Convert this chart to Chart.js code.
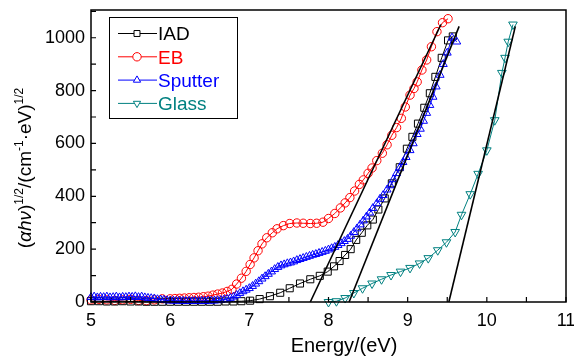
<!doctype html>
<html lang="en">
<head>
<meta charset="UTF-8">
<title>Tauc plot</title>
<style>body{margin:0;background:#fff}</style>
</head>
<body>
<canvas id="chart" width="574" height="356"></canvas>
<script src="https://cdn.jsdelivr.net/npm/chart.js@4/dist/chart.umd.min.js"></script>
<script>
// values
const iadX = [5.0,5.1,5.2,5.3,5.4,5.5,5.6,5.7,5.8,5.9,6.0,6.1,6.2,6.3,6.4,6.5,6.6,6.7,6.8,6.9,
  7.01,7.13,7.26,7.39,7.51,7.64,7.77,7.89,7.99,
  8.07,8.14,8.21,8.28,8.35,8.42,8.49,8.56,8.63,8.71,
  8.8,8.9,8.99,9.06,9.13,9.21,9.28,9.35,9.43,9.51,9.57];
const iadY = [3,3,2,2,3,2,2,1,1,1,1,1,1,1,1,1,1,2,2,3,
  5,11,22,35,52,70,86,99,115,
  135,155,178,200,235,262,290,312,350,392,
  449,510,580,625,675,735,790,852,924,990,1005];

const ebX = [5.0,5.1,5.2,5.3,5.4,5.5,5.6,5.7,5.8,5.9,
  6.0,6.06,6.12,6.18,6.24,6.3,6.36,6.42,6.48,6.54,6.6,6.66,6.72,6.78,6.84,6.9,6.96,
  7.01,7.06,7.11,7.16,7.22,7.29,7.35,7.43,7.51,7.6,7.68,7.77,7.85,7.93,
  8.0,8.08,8.15,8.21,8.27,8.33,8.39,8.44,8.5,8.55,8.61,8.68,8.74,8.8,8.86,8.92,8.97,
  9.03,9.08,9.12,9.18,9.24,9.3,9.37,9.44,9.51];
const ebY = [8,10,8,6,8,10,6,5,8,12,
  12,13,14,15,16,17,18,20,22,26,30,34,40,48,68,90,116,
  142,167,194,220,243,262,277,289,297,299,298,297,298,302,
  316,335,356,375,395,420,445,462,487,507,535,563,595,631,660,695,738,
  783,808,833,878,916,966,1023,1057,1072];

const sputterX = [5.0,5.04,5.08,5.12,5.16,5.2,5.24,5.28,5.32,5.36,5.4,5.44,5.48,5.52,5.56,5.6,5.64,5.68,
  5.72,5.76,5.8,5.84,5.88,5.92,5.96,6.0,6.04,6.08,6.12,6.16,6.2,6.24,6.28,6.32,6.36,6.4,6.44,6.48,6.52,6.56,6.6,6.64,6.68,
  6.72,6.76,6.8,6.84,6.88,6.92,6.96,7.0,
  7.04,7.08,7.12,7.16,7.2,7.24,7.28,7.32,7.36,7.4,7.44,7.48,
  7.52,7.56,7.6,7.64,7.68,7.72,7.76,7.8,7.84,7.88,7.92,7.96,
  8.0,8.04,8.08,8.12,8.16,8.2,8.24,8.28,8.32,8.36,8.4,8.44,8.48,
  8.52,8.56,8.61,8.65,8.69,8.74,8.78,8.82,8.86,8.9,8.94,8.98,
  9.03,9.07,9.12,9.16,9.2,9.24,9.28,9.32,9.36,9.41,9.45,9.5,9.56,9.62];
const sputterY = [18,20,17,19,18,20,17,18,20,17,19,18,20,19,21,18,20,17,
  15,14,13,10,9,8,6,5,5,4,5,4,3,4,3,4,3,4,3,4,5,5,6,7,9,
  11,15,20,26,33,40,46,52,
  60,69,78,88,97,106,115,124,132,138,142,146,
  149,153,158,162,166,170,174,178,181,185,189,193,
  198,203,208,215,222,230,238,250,264,278,293,308,323,
  338,355,373,390,404,425,441,464,487,508,529,548,
  574,600,635,655,685,715,745,776,815,859,900,943,1000,985];

const glassX = [8.0,8.1,8.21,8.32,8.43,8.55,8.67,8.79,8.91,9.03,9.15,9.26,9.38,9.49,9.6,9.68,9.79,9.89,10.0,10.1,10.19,10.23,10.27,10.33];
const glassY = [0,3,15,34,52,70,86,102,115,129,146,166,196,226,265,330,408,485,574,688,867,924,985,1050];

// linear fits (band-gap extrapolation)
const fitEbX = [7.77, 9.42];
const fitEbY = [0, 1050];
const fitIadX = [8.26, 9.65];
const fitIadY = [0, 1043];
const fitGlassX = [9.52, 10.36];
const fitGlassY = [0, 1043];

const xTickLabels = [5, 6, 7, 8, 9, 10, 11];
const yTickLabels = [0, 200, 400, 600, 800, 1000];
const xTickMarks = [5, 5.5, 6, 6.5, 7, 7.5, 8, 8.5, 9, 9.5, 10, 10.5, 11];
const yTickMarks = [0, 100, 200, 300, 400, 500, 600, 700, 800, 900, 1000, 1100];

const FONT = '"Liberation Sans", Arial, sans-serif';
Chart.defaults.font.family = FONT;
Chart.defaults.color = '#000';

const pts = (xs, ys) => xs.map((x, i) => ({x: x, y: ys[i]}));

const legendItems = [
  {label: 'IAD', color: '#000000', style: 'rect', rot: 0, r: 5},
  {label: 'EB', color: '#ff0000', style: 'circle', rot: 0, r: 4.2},
  {label: 'Sputter', color: '#0000ff', style: 'triangle', rot: 0, r: 4.6},
  {label: 'Glass', color: '#008080', style: 'triangle', rot: 180, r: 5}
];

function series(i, xs, ys, order) {
  const it = legendItems[i];
  return {
    label: it.label,
    data: pts(xs, ys),
    showLine: true,
    borderColor: it.color,
    borderWidth: 1,
    pointStyle: it.style,
    pointRotation: it.rot,
    pointRadius: it.r,
    pointBorderColor: it.color,
    pointBackgroundColor: 'rgba(255,255,255,0)',
    pointBorderWidth: 1,
    clip: false,
    order: order
  };
}

function fit(xs, ys) {
  return {
    label: 'fit',
    data: pts(xs, ys),
    showLine: true,
    borderColor: '#000',
    borderWidth: 1.6,
    pointRadius: 0,
    clip: false,
    order: 0
  };
}

const decor = {
  id: 'decor',
  afterDraw(chart) {
    const ctx = chart.ctx, a = chart.chartArea;
    const x = chart.scales.x, y = chart.scales.y;
    ctx.save();
    // frame + inward ticks
    ctx.strokeStyle = '#000';
    ctx.lineWidth = 1.5;
    ctx.strokeRect(a.left, a.top, a.right - a.left, a.bottom - a.top);
    ctx.lineWidth = 1.2;
    ctx.beginPath();
    xTickMarks.forEach(v => {
      const px = x.getPixelForValue(v);
      ctx.moveTo(px, a.bottom); ctx.lineTo(px, a.bottom - 5);
    });
    yTickMarks.forEach(v => {
      const py = y.getPixelForValue(v);
      ctx.moveTo(a.left, py); ctx.lineTo(a.left + 5, py);
    });
    ctx.stroke();

    // legend
    ctx.lineWidth = 1;
    ctx.strokeStyle = '#000';
    ctx.strokeRect(109.5, 17.5, 128, 101);
    legendItems.forEach((it, i) => {
      const yy = 33.5 + i * 23.3;
      ctx.strokeStyle = it.color;
      ctx.lineWidth = 1;
      ctx.beginPath();
      ctx.moveTo(118, yy); ctx.lineTo(157, yy);
      ctx.stroke();
      ctx.fillStyle = '#fff';
      Chart.helpers.drawPoint(ctx, {pointStyle: it.style, radius: 4.2, rotation: it.rot, borderWidth: 1}, 137, yy);
      ctx.fillStyle = it.color;
      ctx.font = '19px ' + FONT;
      ctx.textAlign = 'left';
      ctx.textBaseline = 'alphabetic';
      ctx.fillText(it.label, 158, yy + 6.8);
    });

    // x title
    ctx.fillStyle = '#000';
    ctx.font = '20px ' + FONT;
    ctx.textAlign = 'center';
    ctx.fillText('Energy/(eV)', 344, 352);

    // y title with superscripts
    const main = '19px ' + FONT, ital = 'italic 19px ' + FONT, sup = '12px ' + FONT;
    const segs = [
      ['(', main, 0], ['\u03b1h\u03bd', ital, 0], [')', main, 0], ['1/2', sup, -8],
      ['/(cm', main, 0], ['-1', sup, -8], ['\u00b7eV)', main, 0], ['1/2', sup, -8]
    ];
    let w = 0;
    segs.forEach(s => { ctx.font = s[1]; w += ctx.measureText(s[0]).width; });
    ctx.translate(31, 168);
    ctx.rotate(-Math.PI / 2);
    ctx.textAlign = 'left';
    let cx = -w / 2;
    segs.forEach(s => {
      ctx.font = s[1];
      ctx.fillText(s[0], cx, s[2]);
      cx += ctx.measureText(s[0]).width;
    });
    ctx.restore();
  }
};

new Chart(document.getElementById('chart'), {
  type: 'scatter',
  data: {
    datasets: [
      fit(fitEbX, fitEbY),
      fit(fitIadX, fitIadY),
      fit(fitGlassX, fitGlassY),
      series(2, sputterX, sputterY, 1),
      series(0, iadX, iadY, 2),
      series(1, ebX, ebY, 3),
      series(3, glassX, glassY, 4)
    ]
  },
  options: {
    responsive: false,
    animation: false,
    layout: {padding: {top: 10, right: 8, left: 0, bottom: 0}},
    plugins: {legend: {display: false}, tooltip: {enabled: false}},
    scales: {
      x: {
        type: 'linear', min: 5, max: 11,
        afterBuildTicks: s => { s.ticks = xTickLabels.map(v => ({value: v})); },
        afterFit: s => { s.height = 54; s.paddingLeft = 0; s.paddingRight = 0; },
        grid: {display: false, drawTicks: false},
        border: {display: false},
        ticks: {font: {size: 18}, color: '#000', padding: 8, maxRotation: 0, autoSkip: false,
          callback: v => String(v)}
      },
      y: {
        type: 'linear', min: 0, max: 1105,
        afterBuildTicks: s => { s.ticks = yTickLabels.map(v => ({value: v})); },
        afterFit: s => { s.width = 91; s.paddingTop = 0; s.paddingBottom = 0; },
        grid: {display: false, drawTicks: false},
        border: {display: false},
        ticks: {font: {size: 18}, color: '#000', padding: 6, autoSkip: false,
          callback: v => String(v)}
      }
    }
  },
  plugins: [decor]
});
</script>
</body>
</html>
